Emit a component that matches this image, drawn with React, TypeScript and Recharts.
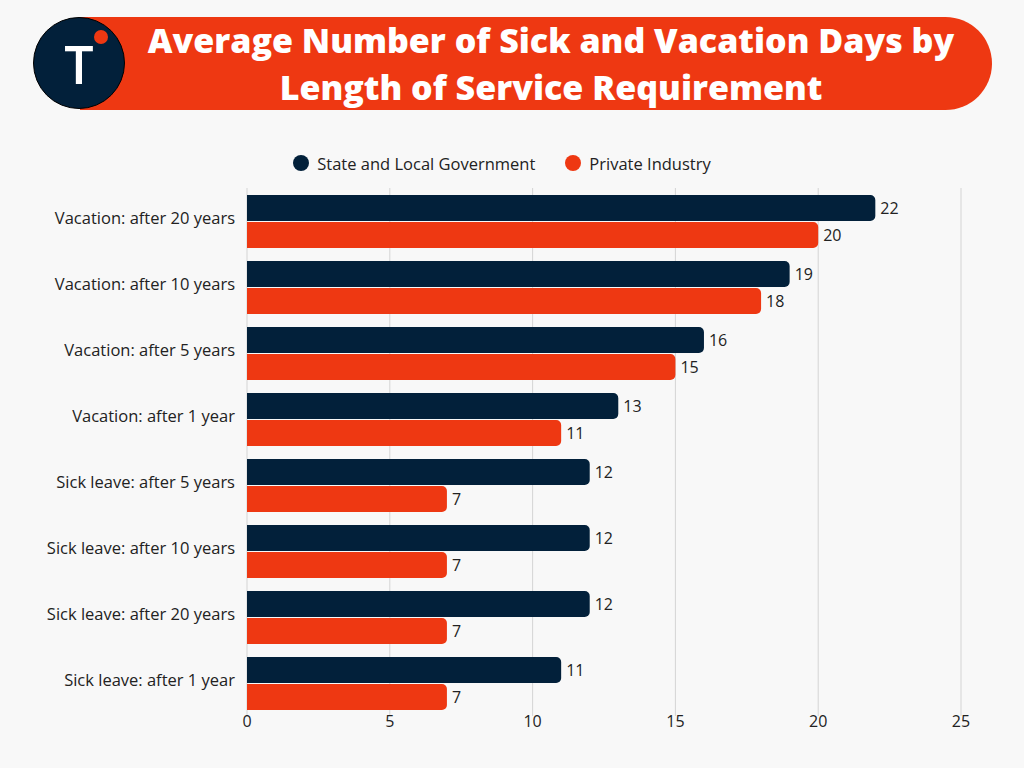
import React from "react";
import {
  BarChart,
  Bar,
  XAxis,
  YAxis,
  CartesianGrid,
  Legend,
  LabelList,
} from "recharts";

const categories = [
  "Vacation: after 20 years",
  "Vacation: after 10 years",
  "Vacation: after 5 years",
  "Vacation: after 1 year",
  "Sick leave: after 5 years",
  "Sick leave: after 10 years",
  "Sick leave: after 20 years",
  "Sick leave: after 1 year",
];
const stateLocal = [22, 19, 16, 13, 12, 12, 12, 11];
const privateIndustry = [20, 18, 15, 11, 7, 7, 7, 7];
const xTicks = [0, 5, 10, 15, 20, 25];
const seriesNames = ["State and Local Government", "Private Industry"];

const NAVY = "#02203a";
const ORANGE = "#ee3812";
const FONT = "'Open Sans', 'Noto Sans', sans-serif";

const data = categories.map((name, i) => ({
  name,
  gov: stateLocal[i],
  priv: privateIndustry[i],
}));

const Header = () => (
  <>
    <div
      style={{
        position: "absolute",
        left: 80,
        top: 17,
        width: 912,
        height: 93,
        background: ORANGE,
        borderRadius: "0 47px 47px 0",
      }}
    />
    <div
      style={{
        position: "absolute",
        left: 130,
        top: 17,
        width: 842,
        height: 93,
        color: "#fff",
        fontFamily: FONT,
        fontWeight: 800,
        fontSize: 34,
        lineHeight: "47px",
        textAlign: "center",
        display: "flex",
        flexDirection: "column",
        alignItems: "center",
        justifyContent: "center",
        whiteSpace: "nowrap",
      }}
    >
      <div>Average Number of Sick and Vacation Days by</div>
      <div>Length of Service Requirement</div>
    </div>
    <div
      style={{
        position: "absolute",
        left: 33,
        top: 17,
        width: 92,
        height: 92,
        borderRadius: "50%",
        background: NAVY,
        border: "1px solid #000",
        boxSizing: "border-box",
        color: "#fff",
        fontFamily: FONT,
        fontWeight: 600,
        fontSize: 52,
        display: "flex",
        alignItems: "center",
        justifyContent: "center",
      }}
    >
      T
    </div>
    <div
      style={{
        position: "absolute",
        left: 94,
        top: 30,
        width: 14,
        height: 14,
        borderRadius: "50%",
        background: ORANGE,
      }}
    />
  </>
);

// legend drawn in series order, dot + label
const renderLegend = () => (
  <div
    style={{
      display: "flex",
      justifyContent: "center",
      gap: 30,
      height: 24,
      alignItems: "center",
      fontFamily: FONT,
      fontSize: 16.5,
      color: "#222",
    }}
  >
    {seriesNames.map((n, i) => (
      <div key={n} style={{ display: "flex", alignItems: "center" }}>
        <span
          style={{
            width: 16,
            height: 16,
            borderRadius: "50%",
            background: i === 0 ? NAVY : ORANGE,
            marginRight: 8,
            display: "inline-block",
          }}
        />
        {n}
      </div>
    ))}
  </div>
);

export default function App() {
  return (
    <div
      style={{
        position: "absolute",
        left: 0,
        top: 0,
        width: 1024,
        height: 768,
        background: "#f8f8f8",
        fontFamily: FONT,
      }}
    >
      <Header />
      <BarChart
        width={1024}
        height={768}
        data={data}
        layout="vertical"
        margin={{ top: 164, right: 63, bottom: 0, left: 47 }}
        barSize={26}
        barGap={1}
        barCategoryGap={13}
      >
        <CartesianGrid horizontal={false} stroke="#d4d4d4" />
        <XAxis
          type="number"
          domain={[0, 25]}
          ticks={xTicks}
          axisLine={false}
          tickLine={false}
          tickSize={0}
          tickMargin={0}
          height={52}
          tick={{ fill: "#222", fontSize: 16, fontFamily: FONT }}
        />
        <YAxis
          type="category"
          dataKey="name"
          width={200}
          axisLine={false}
          tickLine={false}
          tickSize={0}
          tickMargin={12}
          tick={{ fill: "#222", fontSize: 16.5, fontFamily: FONT, dy: -3 }}
        />
        <Legend
          verticalAlign="top"
          content={renderLegend}
          wrapperStyle={{ top: 151, left: -10, width: 1024, height: 24 }}
        />
        <Bar
          dataKey="gov"
          name={seriesNames[0]}
          fill={NAVY}
          radius={[0, 5, 5, 0]}
          isAnimationActive={false}
        >
          <LabelList
            dataKey="gov"
            position="right"
            offset={5}
            fill="#222"
            fontSize={16}
            fontFamily={FONT}
          />
        </Bar>
        <Bar
          dataKey="priv"
          name={seriesNames[1]}
          fill={ORANGE}
          radius={[0, 5, 5, 0]}
          isAnimationActive={false}
        >
          <LabelList
            dataKey="priv"
            position="right"
            offset={5}
            fill="#222"
            fontSize={16}
            fontFamily={FONT}
          />
        </Bar>
      </BarChart>
    </div>
  );
}
